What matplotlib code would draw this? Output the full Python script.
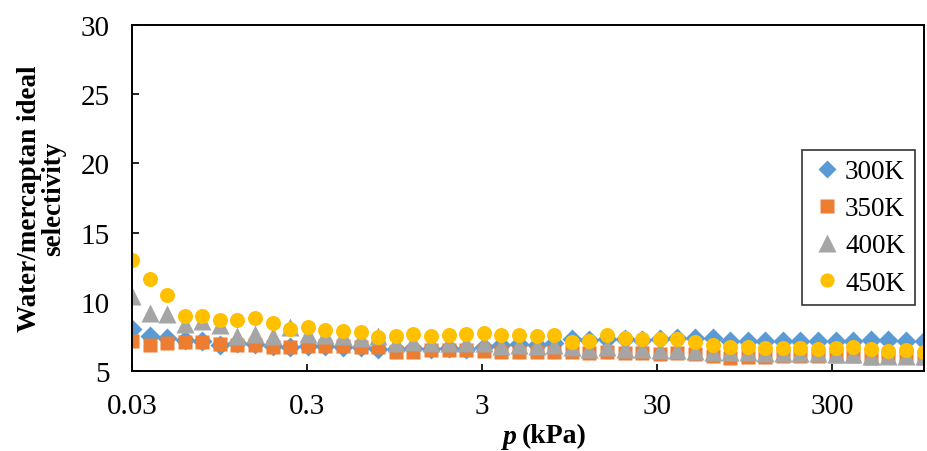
import numpy as np
import matplotlib
matplotlib.use("Agg")
import matplotlib.pyplot as plt
from matplotlib.ticker import FixedLocator, NullLocator

# ------------------------
# data
# ------------------------
p_kpa = [0.030, 0.0378, 0.0476, 0.060, 0.0756, 0.0953, 0.120, 0.151, 0.191, 0.240,
         0.303, 0.382, 0.481, 0.606, 0.764, 0.963, 1.214, 1.53, 1.93, 2.43,
         3.06, 3.86, 4.86, 6.13, 7.72, 9.73, 12.27, 15.46, 19.5, 24.6,
         30.9, 39.0, 49.2, 62.0, 78.1, 98.5, 124, 156, 197, 248,
         313, 394, 497, 626, 790, 995]

sel_300 = [8.0, 7.5, 7.35, 7.25, 7.2, 6.9, 7.0, 6.95, 6.8, 6.75,
           6.8, 6.8, 6.75, 6.7, 6.6, 6.6, 6.65, 6.6, 6.65, 6.6,
           6.7, 6.85, 6.95, 6.9, 7.0, 7.3, 7.25, 7.3, 7.3, 7.25,
           7.3, 7.35, 7.35, 7.4, 7.2, 7.15, 7.2, 7.2, 7.2, 7.2,
           7.2, 7.2, 7.25, 7.25, 7.2, 7.2]

sel_350 = [7.15, 6.9, 7.0, 7.1, 7.1, 6.95, 6.9, 6.9, 6.7, 6.75,
           6.8, 6.8, 6.8, 6.75, 6.7, 6.4, 6.4, 6.55, 6.55, 6.5,
           6.45, 6.35, 6.4, 6.4, 6.35, 6.35, 6.3, 6.4, 6.3, 6.3,
           6.25, 6.3, 6.2, 6.05, 5.95, 6.0, 6.0, 6.05, 6.05, 6.05,
           6.1, 6.05, 5.95, 6.0, 6.0, 5.95]

sel_400 = [10.4, 9.2, 9.15, 8.4, 8.6, 8.35, 7.55, 7.65, 7.5, 8.2,
           7.7, 7.6, 7.55, 7.4, 7.5, 7.0, 7.1, 7.0, 7.0, 7.05,
           7.0, 6.8, 6.85, 6.8, 6.85, 6.7, 6.6, 6.75, 6.6, 6.6,
           6.55, 6.5, 6.45, 6.4, 6.35, 6.35, 6.3, 6.3, 6.3, 6.3,
           6.25, 6.2, 6.1, 6.05, 6.1, 6.05]

sel_450 = [13.0, 11.65, 10.5, 9.0, 8.95, 8.7, 8.7, 8.85, 8.45, 8.05,
           8.15, 7.95, 7.9, 7.85, 7.45, 7.5, 7.7, 7.55, 7.6, 7.65,
           7.75, 7.6, 7.6, 7.55, 7.6, 7.1, 7.2, 7.6, 7.4, 7.3,
           7.3, 7.3, 7.1, 6.9, 6.7, 6.7, 6.65, 6.65, 6.65, 6.6,
           6.65, 6.7, 6.6, 6.45, 6.5, 6.35]

x_ticks = [0.03, 0.3, 3, 30, 300]
x_ticklabels = ["0.03", "0.3", "3", "30", "300"]
y_ticks = [5, 10, 15, 20, 25, 30]

# ------------------------
# style
# ------------------------
plt.rcParams["font.family"] = ["Liberation Serif", "DejaVu Serif"]

fig = plt.figure(figsize=(9.28, 4.52), dpi=100)
ax = fig.add_axes([0.1422, 0.177, 0.8535, 0.7655])

ax.plot(p_kpa, sel_300, "D", color="#5B9BD5", ms=10, mec="none", label="300K")
ax.plot(p_kpa, sel_350, "s", color="#ED7D31", ms=10.4, mec="none", label="350K")
ax.plot(p_kpa, sel_400, "^", color="#A5A5A5", ms=13.5, mec="none", label="400K")
ax.plot(p_kpa, sel_450, "o", color="#FFC000", ms=10.8, mec="none", label="450K")

ax.set_xscale("log")
ax.set_xlim(0.03, 1000)
ax.set_ylim(5, 30)
ax.xaxis.set_major_locator(FixedLocator(x_ticks))
ax.xaxis.set_minor_locator(NullLocator())
ax.set_xticklabels(x_ticklabels)
ax.set_yticks(y_ticks)

ax.tick_params(axis="both", direction="in", length=5, width=1.2, labelsize=21,
               colors="black")
ax.tick_params(axis="x", pad=16)
ax.tick_params(axis="y", pad=16)
for s in ax.spines.values():
    s.set_linewidth(1.4)
    s.set_color("black")

ax.set_ylabel("Water/mercaptan ideal\nselectivity", fontsize=19.5,
              fontweight="bold", linespacing=1.0, labelpad=10)

# x label: italic bold p + bold (kPa)
ax.text(0.4855, -0.188, "p", transform=ax.transAxes, fontsize=20,
        fontweight="bold", style="italic", ha="right", va="center")
ax.text(0.4915, -0.188, "(kPa)", transform=ax.transAxes, fontsize=20,
        fontweight="bold", ha="left", va="center")

leg = ax.legend(loc="upper right", bbox_to_anchor=(0.988, 0.64), fontsize=19.5,
                frameon=True, fancybox=False, edgecolor="black",
                handletextpad=0.05, handlelength=1.2, labelspacing=0.45,
                borderpad=0.35, borderaxespad=0.0, markerscale=0.95)
leg.get_frame().set_linewidth(1.2)

fig.savefig("out.png", dpi=100)
